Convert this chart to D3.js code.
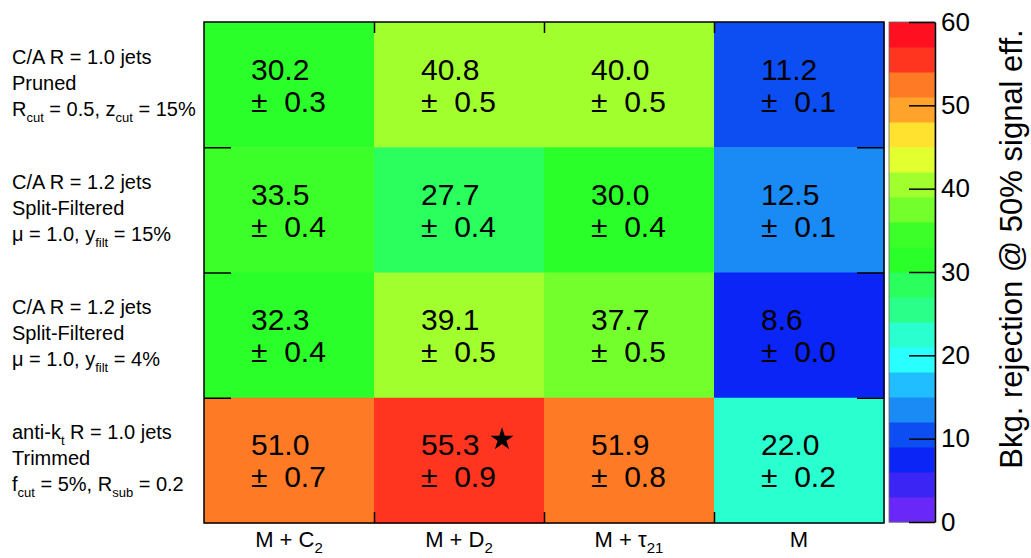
<!DOCTYPE html>
<html>
<head>
<meta charset="utf-8">
<script src="https://cdn.jsdelivr.net/npm/d3@7/dist/d3.min.js"></script>
<style>
  body { margin: 0; background: #fff; }
  svg text { font-family: "Liberation Sans", Arial, Helvetica, sans-serif; fill: #000; }
</style>
</head>
<body>
<div id="chart"></div>
<script>
//Datos (filas de arriba a abajo, columnas de izquierda a derecha)
const rowLabels = [
    ['C/A R = 1.0 jets', 'Pruned', 'R_{cut} = 0.5, z_{cut} = 15%'],
    ['C/A R = 1.2 jets', 'Split-Filtered', 'μ = 1.0, y_{filt} = 15%'],
    ['C/A R = 1.2 jets', 'Split-Filtered', 'μ = 1.0, y_{filt} = 4%'],
    ['anti-k_{t} R = 1.0 jets', 'Trimmed', 'f_{cut} = 5%, R_{sub} = 0.2']
];
const colLabels = ['M + C_{2}', 'M + D_{2}', 'M + τ_{21}', 'M'];
const rejection = [
    [30.2, 40.8, 40.0, 11.2],
    [33.5, 27.7, 30.0, 12.5],
    [32.3, 39.1, 37.7, 8.6],
    [51.0, 55.3, 51.9, 22.0]
];
const rejectionErr = [
    [0.3, 0.5, 0.5, 0.1],
    [0.4, 0.4, 0.4, 0.1],
    [0.4, 0.5, 0.5, 0.0],
    [0.7, 0.9, 0.8, 0.2]
];
const bestCell = [3, 1];
const zTicks = [0, 10, 20, 30, 40, 50, 60];
const zTitle = 'Bkg. rejection @ 50% signal eff.';

//Paleta de 20 niveles, de 0 a 60
const palette = ['#6a28f8', '#3a25f5', '#0a25f5', '#0d4ef2', '#1a8af5',
    '#20bdff', '#2affff', '#2affcf', '#2aff8a', '#2aff5e',
    '#2aff2a', '#3cff2a', '#72ff2c', '#a0ff2d', '#e2ff2f',
    '#ffe22f', '#ffa32a', '#ff7a25', '#ff3520', '#ff1020'];

const W = 1031, H = 558;
const plot = {left: 204, right: 884, top: 22, bottom: 523};
const bar = {left: 889, right: 935};

let svg = d3.select('#chart').append('svg')
    .attr('width', W)
    .attr('height', H);

//Texto con subíndices tipo ROOT: a_{b}
function richText(sel, str, subSize, subDy) {
    let parts = str.split(/_\{([^}]*)\}/);
    let down = false;
    parts.forEach(function(p, i) {
        if (p === '') return;
        let isSub = i % 2 === 1;
        let t = sel.append('tspan').text(p);
        if (isSub) t.style('font-size', subSize + 'px');
        if (isSub && !down) { t.attr('dy', subDy); down = true; }
        else if (!isSub && down) { t.attr('dy', -subDy); down = false; }
    });
}

let x = d3.scaleBand().domain(d3.range(colLabels.length)).range([plot.left, plot.right]);
let y = d3.scaleBand().domain(d3.range(rowLabels.length)).range([plot.top, plot.bottom]);
let color = d3.scaleQuantize().domain([0, 60]).range(palette);

let cells = rejection.flatMap(function(r, i) {
    return r.map(function(v, j) { return {row: i, col: j, v: v, e: rejectionErr[i][j]}; });
});

//Celdas
svg.append('g')
    .selectAll('rect')
    .data(cells)
    .enter()
    .append('rect')
    .attr('x', function(d) { return x(d.col); })
    .attr('y', function(d) { return y(d.row); })
    .attr('width', x.bandwidth() + 0.5)
    .attr('height', y.bandwidth() + 0.5)
    .attr('fill', function(d) { return color(d.v); });

//Valores
let labels = svg.append('g')
    .selectAll('g')
    .data(cells)
    .enter()
    .append('g')
    .attr('transform', function(d) {
        return 'translate(' + (x(d.col) + x.bandwidth() / 2 - 38) + ',' + (y(d.row) + y.bandwidth() / 2) + ')';
    })
    .style('font-size', '30px');

labels.append('text')
    .attr('y', -5)
    .text(function(d) { return d.v.toFixed(1); });

labels.append('text')
    .attr('y', 27)
    .text(function(d) { return '±\u00a0\u00a0' + d.e.toFixed(1); });

//Estrella en la mejor combinación
svg.append('path')
    .attr('d', d3.symbol().type(d3.symbolStar).size(165)())
    .attr('transform', 'translate(' + (x(bestCell[1]) + x.bandwidth() / 2 + 43) + ',' + (y(bestCell[0]) + y.bandwidth() / 2 - 21) + ')')
    .attr('fill', '#000');

//Marco y marcas en los límites de celda
let xb = d3.scaleLinear().domain([0, colLabels.length]).range([plot.left, plot.right]);
let yb = d3.scaleLinear().domain([0, rowLabels.length]).range([plot.top, plot.bottom]);

svg.append('g').attr('transform', 'translate(0,' + plot.top + ')')
    .call(d3.axisTop(xb).tickValues([1, 2, 3]).tickSize(-11).tickFormat(''));
svg.append('g').attr('transform', 'translate(0,' + plot.bottom + ')')
    .call(d3.axisBottom(xb).tickValues([1, 2, 3]).tickSize(-11).tickFormat(''));
svg.append('g').attr('transform', 'translate(' + plot.left + ',0)')
    .call(d3.axisLeft(yb).tickValues([1, 2, 3]).tickSize(-27).tickFormat(''));
svg.append('g').attr('transform', 'translate(' + plot.right + ',0)')
    .call(d3.axisRight(yb).tickValues([1, 2, 3]).tickSize(-27).tickFormat(''));
svg.selectAll('.domain').remove();
svg.selectAll('.tick line').attr('stroke', '#000').attr('stroke-width', 1.5);

svg.append('rect')
    .attr('x', plot.left).attr('y', plot.top)
    .attr('width', plot.right - plot.left).attr('height', plot.bottom - plot.top)
    .attr('fill', 'none').attr('stroke', '#000').attr('stroke-width', 1.5);

//Etiquetas de columnas
svg.append('g')
    .selectAll('text')
    .data(colLabels)
    .enter()
    .append('text')
    .attr('x', function(d, i) { return x(i) + x.bandwidth() / 2; })
    .attr('y', 547)
    .attr('text-anchor', 'middle')
    .style('font-size', '22px')
    .each(function(d) { richText(d3.select(this), d, 15, 6); });

//Etiquetas de filas
let rows = svg.append('g')
    .selectAll('g')
    .data(rowLabels)
    .enter()
    .append('g')
    .attr('transform', function(d, i) { return 'translate(12,' + (y(i) + y.bandwidth() / 2) + ')'; })
    .style('font-size', '20px');

rows.selectAll('text')
    .data(function(d) { return d; })
    .enter()
    .append('text')
    .attr('y', function(d, i) { return -21 + i * 26; })
    .each(function(d) { richText(d3.select(this), d, 13, 6); });

//Barra de color
let z = d3.scaleLinear().domain([0, 60]).range([plot.bottom - 1, plot.top]);
let bins = d3.range(palette.length).map(function(i) { return i * 3; });

svg.append('g')
    .selectAll('rect')
    .data(bins)
    .enter()
    .append('rect')
    .attr('x', bar.left)
    .attr('y', function(d) { return z(d + 3); })
    .attr('width', bar.right - bar.left)
    .attr('height', function(d) { return z(d) - z(d + 3) + 0.5; })
    .attr('fill', function(d) { return color(d + 1.5); });

svg.append('rect')
    .attr('x', bar.left).attr('y', z(60))
    .attr('width', bar.right - bar.left).attr('height', z(0) - z(60))
    .attr('fill', 'none').attr('stroke', '#666').attr('stroke-width', 0.8);

let zAxis = svg.append('g')
    .attr('transform', 'translate(' + bar.right + ',0)')
    .call(d3.axisRight(z).tickValues(zTicks).tickSizeInner(-26).tickSizeOuter(0).tickPadding(6));
zAxis.select('.domain').attr('stroke', '#000').attr('stroke-width', 1.5);
zAxis.selectAll('.tick line').attr('stroke', '#000').attr('stroke-width', 1.5);
zAxis.selectAll('.tick text')
    .attr('fill', '#000')
    .style('font-size', '26px')
    .style('font-family', '"Liberation Sans", Arial, sans-serif');

svg.append('text')
    .attr('transform', 'translate(1022,249) rotate(-90)')
    .attr('text-anchor', 'middle')
    .style('font-size', '31px')
    .text(zTitle);
</script>
</body>
</html>
